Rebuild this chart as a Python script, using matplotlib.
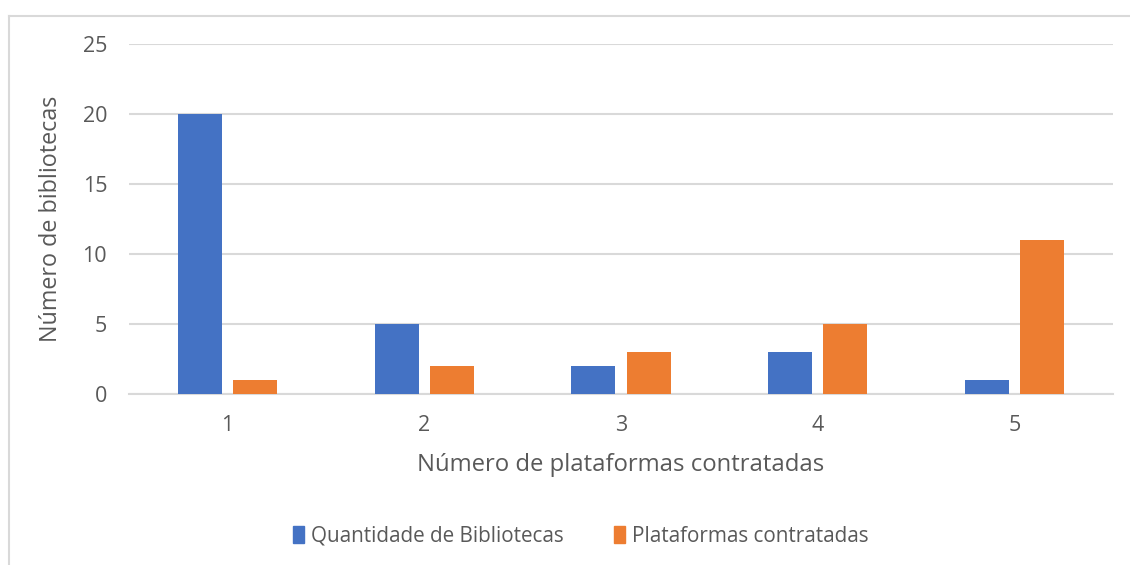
import matplotlib
matplotlib.use("Agg")
import matplotlib.pyplot as plt
import numpy as np
from matplotlib.lines import Line2D

categories = ["1", "2", "3", "4", "5"]
quantidade_bibliotecas = [20, 5, 2, 3, 1]
plataformas_contratadas = [1, 2, 3, 5, 11]
series_names = ["Quantidade de Bibliotecas", "Plataformas contratadas"]
colors = ["#4472C4", "#ED7D31"]
text_color = "#595959"
grid_color = "#D9D9D9"

plt.rcParams['font.family'] = ['Open Sans', 'DejaVu Sans']

fig = plt.figure(figsize=(11.3, 5.65), dpi=100)
ax = fig.add_axes([0.1144, 0.3021, 0.8703, 0.6195])

x = np.arange(len(categories))
w = 0.224
off = 0.141
ax.bar(x - off, quantidade_bibliotecas, w, color=colors[0], label=series_names[0], zorder=3)
ax.bar(x + off, plataformas_contratadas, w, color=colors[1], label=series_names[1], zorder=3)

ax.set_xlim(-0.5, len(categories) - 0.5)
ax.set_ylim(0, 25)
ax.set_yticks([0, 5, 10, 15, 20, 25])
ax.set_xticks(x)
ax.set_xticklabels(categories)
ax.yaxis.grid(True, color=grid_color, linewidth=1.5, zorder=0)
ax.set_axisbelow(True)
for s in ["top", "right", "left"]:
    ax.spines[s].set_visible(False)
ax.spines["bottom"].set_color(grid_color)
ax.spines["bottom"].set_linewidth(1.5)
ax.tick_params(axis='both', length=0, labelsize=15.5, colors=text_color)
ax.tick_params(axis='y', pad=16)
ax.tick_params(axis='x', pad=15)

ax.set_xlabel("Número de plataformas contratadas", fontsize=17.2, color=text_color, labelpad=12)
ax.set_ylabel("Número de bibliotecas", fontsize=16.8, color=text_color, labelpad=14)

handles = [plt.Rectangle((0, 0), 1, 1, color=c) for c in colors]
fig.legend(handles, series_names, loc='center', bbox_to_anchor=(0.514, 1 - 536 / 565),
           ncol=2, frameon=False, fontsize=14.9, labelcolor=text_color,
           handlelength=0.55, handleheight=0.9, handletextpad=0.35, columnspacing=2.4)

# chart frame lines
fig.add_artist(Line2D([9 / 1130, 9 / 1130], [0, 1 - 16 / 565], transform=fig.transFigure,
                      color=grid_color, linewidth=1.5))
fig.add_artist(Line2D([9 / 1130, 1], [1 - 16 / 565, 1 - 16 / 565], transform=fig.transFigure,
                      color=grid_color, linewidth=1.5))

fig.savefig("out.png", dpi=100, facecolor="white")
